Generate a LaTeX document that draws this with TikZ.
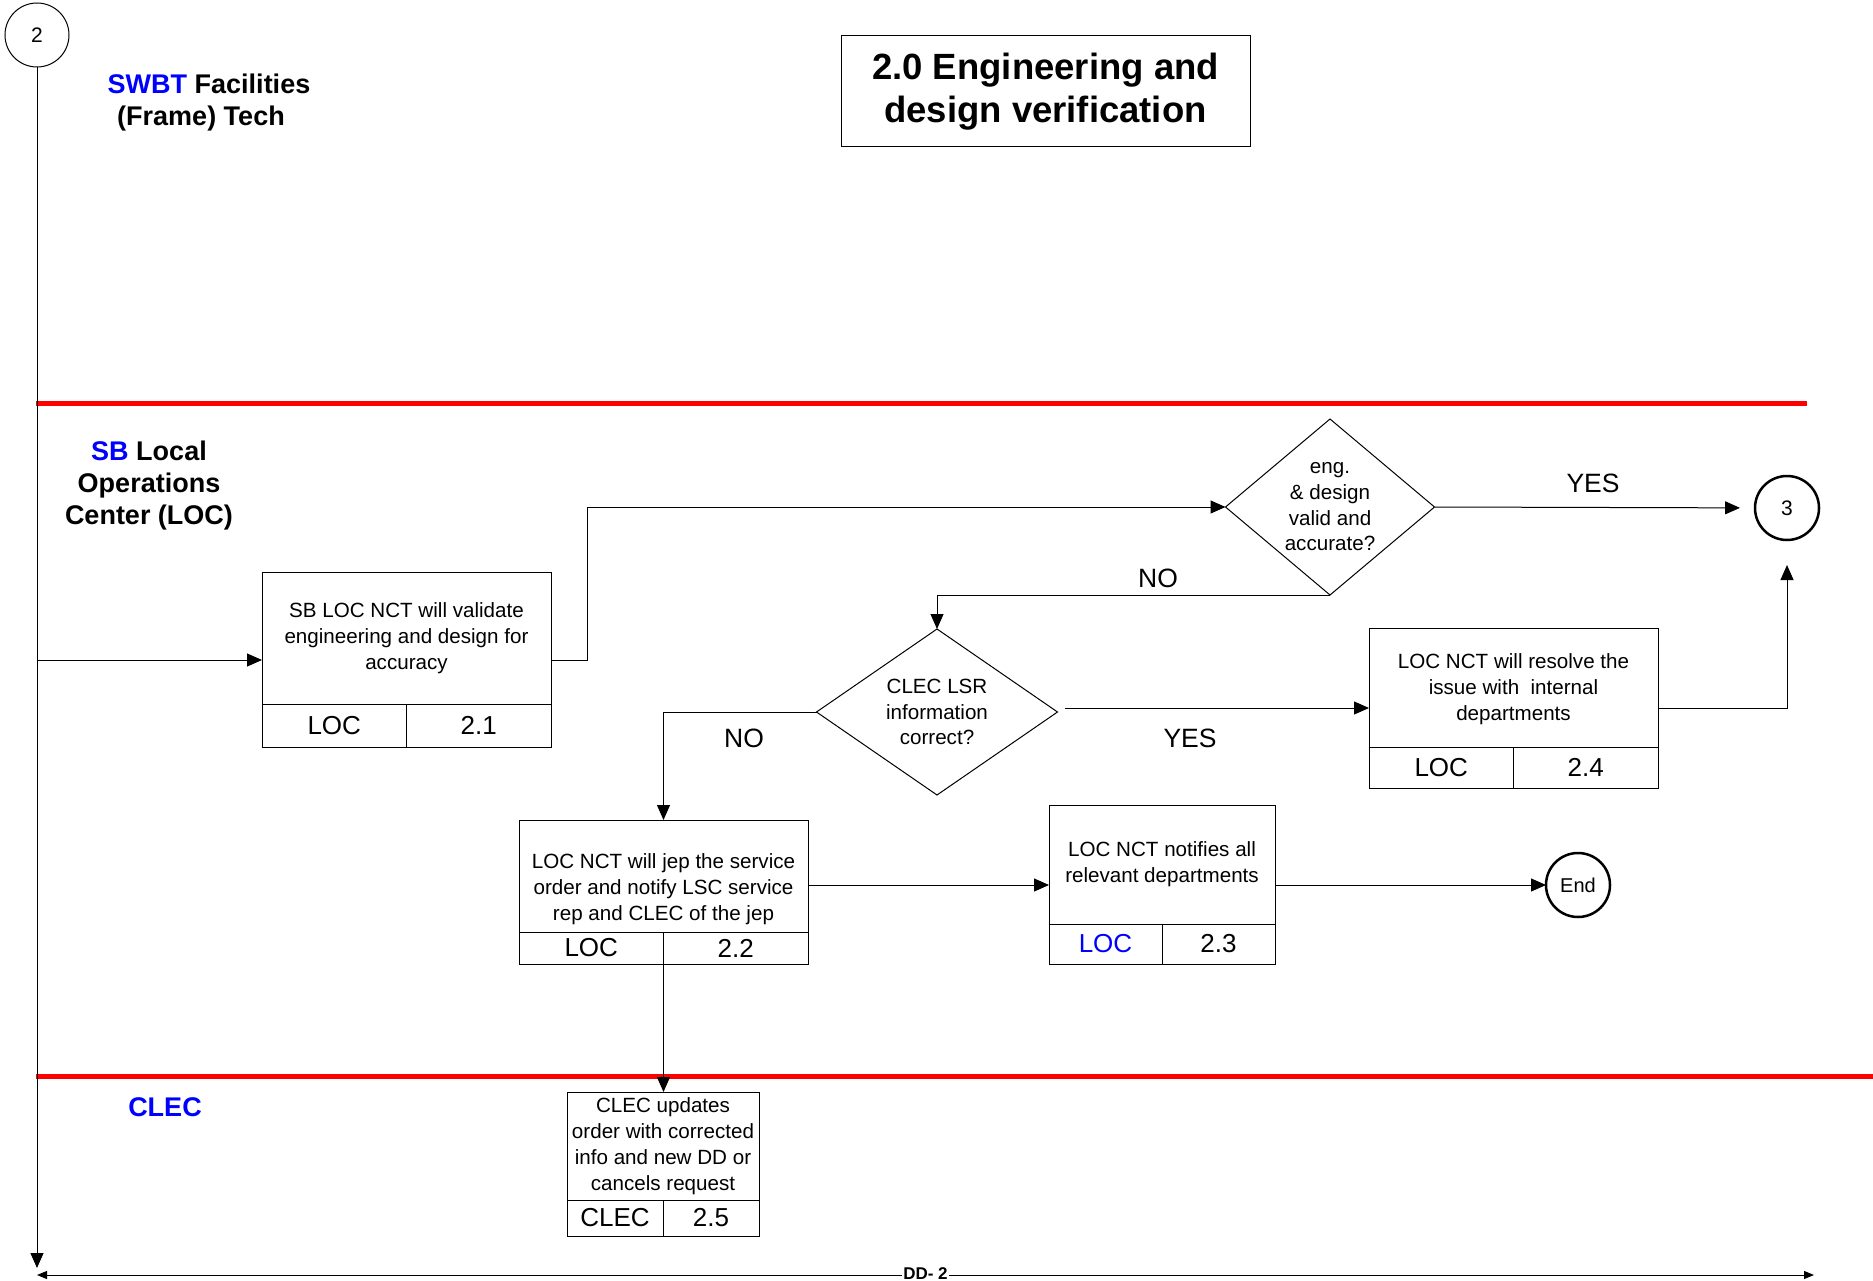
\documentclass[tikz,border=0pt]{standalone}
\usepackage{fontspec}
\setmainfont{Liberation Sans}
\usetikzlibrary{arrows.meta,positioning,shapes.geometric}
\definecolor{LaneClr}{rgb}{1,0,0}
\definecolor{TagClr}{rgb}{0,0,1}

\begin{document}
\begin{tikzpicture}[x=1pt,y=-1pt,
  lane/.style={draw=LaneClr,line width=5pt},
  lanetxt/.style={align=center,font=\fontsize{27}{32}\selectfont\bfseries},
  stepbody/.style={draw,line width=1pt,outer sep=0pt,inner sep=2pt,align=center,font=\fontsize{20.6}{26}\selectfont},
  steptxt/.style={align=center,font=\fontsize{20.6}{26}\selectfont},
  stepfoot/.style={draw,line width=1pt,outer sep=0pt,inner sep=0pt,font=\fontsize{26}{30}\selectfont},
  decide/.style={diamond,draw,line width=1pt,outer sep=0pt,inner sep=0pt},
  decidetxt/.style={align=center,font=\fontsize{20.6}{25.7}\selectfont},
  conn/.style={circle,draw,outer sep=0pt,inner sep=0pt,minimum size=64pt,font=\fontsize{21}{24}\selectfont},
  answer/.style={font=\fontsize{26.5}{30}\selectfont},
  link/.style={line width=1pt,-{Triangle[length=15pt,width=13pt]}}]

\useasboundingbox (0,0) rectangle (1873,1281);

\draw[lane] (36,403) -- (1807,403);
\draw[lane] (36,1076) -- (1873,1076);

\node[lanetxt] (swbt) at (209,103) {\textcolor{TagClr}{SWBT} Facilities\\(Frame) Tech\hspace*{16pt}};
\node[lanetxt] (sbloc) at (149,486) {\textcolor{TagClr}{SB} Local\\Operations\\Center (LOC)};
\node[lanetxt] (clec) at (165,1107) {\textcolor{TagClr}{CLEC}};

\node[draw,line width=1pt,minimum width=409pt,minimum height=111pt,align=center,font=\fontsize{36.5}{43}\selectfont\bfseries] (title) at (1045.5,91.5) {2.0 Engineering and\\design verification};

\node[conn,line width=1pt] (c2) at (37,35) {2};
\node[conn,line width=2.5pt] (c3) at (1787,508) {3};
\node[conn,line width=2.5pt,font=\fontsize{20}{24}\selectfont] (endc) at (1578,885) {End};

\node[stepbody,minimum width=289pt,minimum height=132pt] (s21) at (406.5,638) {SB LOC NCT will validate\\engineering and design for\\accuracy};
\node[stepfoot,minimum width=144.5pt,minimum height=43pt,below right=0pt of s21.south west] (s21a) {LOC};
\node[stepfoot,minimum width=144.5pt,minimum height=43pt,below left=0pt of s21.south east] (s21b) {2.1};

\node[stepbody,minimum width=289pt,minimum height=112pt] (s22) at (663.5,876) {};
\node[steptxt] (s22t) at ([yshift=-13pt]s22) {LOC NCT will jep the service\\order and notify LSC service\\rep and CLEC of the jep};
\node[stepfoot,minimum width=144.5pt,minimum height=32pt,below right=0pt of s22.south west] (s22a) {LOC};
\node[stepfoot,minimum width=144.5pt,minimum height=32pt,below left=0pt of s22.south east] (s22b) {2.2};

\node[stepbody,minimum width=226pt,minimum height=119pt] (s23) at (1162,864.5) {LOC NCT notifies all\\relevant departments};
\node[stepfoot,minimum width=113pt,minimum height=40pt,below right=0pt of s23.south west] (s23a) {\textcolor{TagClr}{LOC}};
\node[stepfoot,minimum width=113pt,minimum height=40pt,below left=0pt of s23.south east] (s23b) {2.3};

\node[stepbody,minimum width=289pt,minimum height=119pt] (s24) at (1513.5,687.5) {};
\node[steptxt] (s24t) at ([yshift=-2pt]s24) {LOC NCT will resolve the\\issue with~ internal\\departments};
\node[stepfoot,minimum width=144.5pt,minimum height=41pt,below right=0pt of s24.south west] (s24a) {LOC};
\node[stepfoot,minimum width=144.5pt,minimum height=41pt,below left=0pt of s24.south east] (s24b) {2.4};

\node[stepbody,minimum width=192pt,minimum height=108pt] (s25) at (663,1146) {CLEC updates\\order with corrected\\info and new DD or\\cancels request};
\node[stepfoot,minimum width=96pt,minimum height=36pt,below right=0pt of s25.south west] (s25a) {CLEC};
\node[stepfoot,minimum width=96pt,minimum height=36pt,below left=0pt of s25.south east] (s25b) {2.5};

\node[decide,minimum width=209pt,minimum height=176pt] (d1) at (1330,507) {};
\node[decidetxt] (d1t) at (d1) {eng.\\\& design\\valid and\\accurate?};
\node[decide,minimum width=241pt,minimum height=166pt] (d2) at (937,712) {};
\node[decidetxt] (d2t) at (d2) {CLEC LSR\\information\\correct?};

\node[answer] (yes1) at (1593,483) {YES};
\node[answer] (no1) at (1158,578) {NO};
\node[answer] (yes2) at (1190,738) {YES};
\node[answer] (no2) at (744,738) {NO};

\coordinate (in21) at (37,660);
\coordinate (lanend) at (37,1268);
\coordinate (ddl) at (37,1275);
\coordinate (ddr) at (1814,1275);

\draw[link] (c2) -- (lanend);
\draw[link] (in21) -- (in21 -| s21.west);
\draw[link] (s21.east |- in21) -- ++(36,0) |- (d1.west);
\draw[link,shorten >=15pt] (d1.east) -- (c3);
\draw[link] (d1.south) -| (d2.north);
\draw[link] ([xshift=7pt,yshift=4pt]d2.east) -- ([yshift=4pt]d2.east -| s24.west);
\draw[link] (d2.west) -| (s22.north);
\draw[link] (s22.east |- endc) -- (s23.west |- endc);
\draw[link] (s23.east |- endc) -- (endc);
\draw[link,shorten >=25pt] ([yshift=-20.5pt]s24.east) -| (c3.south);
\draw[link] (s22a.south east) -- (s22a.south east |- s25.north);
\draw[line width=1pt,{Triangle[length=10pt,width=8pt]}-{Triangle[length=10pt,width=8pt]}] (ddl) -- (ddr) node[midway,fill=white,inner sep=1.5pt,yshift=1pt,font=\fontsize{17}{20}\selectfont\bfseries] (ddtag) {DD- 2};

\end{tikzpicture}
\end{document}
